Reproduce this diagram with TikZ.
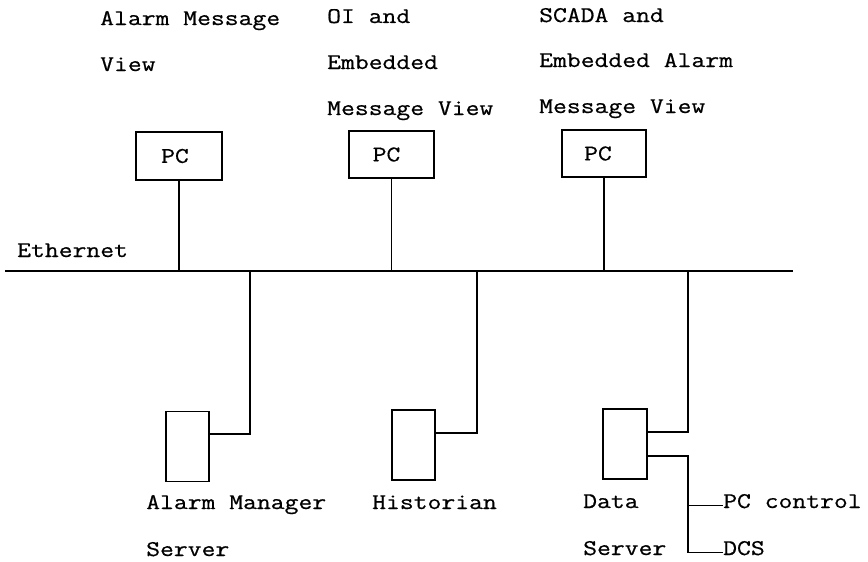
\documentclass[tikz,border=0pt]{standalone}
\usepackage{fontspec}
\setmonofont[FakeStretch=1.2,FakeBold=0.6]{Latin Modern Mono}
\begin{document}
\begin{tikzpicture}[x=1pt,y=-1pt,
  lbl/.style={anchor=base west,inner sep=0pt,font=\fontsize{22.4}{28}\selectfont\ttfamily},
  pcbox/.style={draw,line width=1.1pt,inner sep=0pt,font=\fontsize{22.4}{28}\selectfont\ttfamily},
  srv/.style={draw,line width=1.1pt,inner sep=0pt,minimum width=43pt,minimum height=70pt},
  wire/.style={line width=1.2pt}]
\useasboundingbox (0,0) rectangle (868,562);
% top labels
\node[lbl] (t1a) at (100,25) {Alarm Message};
\node[lbl] (t1b) at (100,71) {View};
\node[lbl] (t2a) at (327,23) {OI and};
\node[lbl] (t2b) at (327,69) {Embedded};
\node[lbl] (t2c) at (327,115) {Message View};
\node[lbl] (t3a) at (539,22) {SCADA and};
\node[lbl] (t3b) at (539,67) {Embedded Alarm};
\node[lbl] (t3c) at (539,113) {Message View};
% PC boxes
\node[pcbox,minimum width=86pt,minimum height=48pt] (pc1) at (179,156) {PC\hspace*{8pt}};
\node[pcbox,minimum width=85pt,minimum height=47pt] (pc2) at (391.5,154.5) {PC\hspace*{10pt}};
\node[pcbox,minimum width=84pt,minimum height=47pt] (pc3) at (604,153.5) {PC\hspace*{12pt}};
% Ethernet bus
\node[lbl] (eth) at (17,257) {Ethernet};
\coordinate (busw) at (5,271);
\coordinate (buse) at (793,271);
\draw[wire] (busw) -- (buse);
\draw[wire] (pc1.south) -- (pc1.south |- busw);
\draw[wire] (pc2.south) -- (pc2.south |- busw);
\draw[wire] (pc3.south) -- (pc3.south |- busw);
% servers
\node[srv] (ams) at (187.5,446.5) {};
\node[srv] (hist) at (413.5,445) {};
\node[srv,minimum width=44pt] (ds) at (625,444) {};
\coordinate (tap1) at (250,271);
\coordinate (tap2) at (477,271);
\coordinate (tap3) at (688,271);
\draw[wire] (tap1) |- ([yshift=12.5pt]ams.east);
\draw[wire] (tap2) |- ([yshift=12pt]hist.east);
\draw[wire] (tap3) |- ([yshift=12pt]ds.east);
% bottom labels
\node[lbl] (l1a) at (146,509) {Alarm Manager};
\node[lbl] (l1b) at (146,556) {Server};
\node[lbl] (l2) at (372,509) {Historian};
\node[lbl] (l3a) at (583,508) {Data};
\node[lbl] (l3b) at (583,555) {Server};
\node[lbl] (pcc) at (723,508) {PC control};
\node[lbl] (dcs) at (723,555) {DCS};
\coordinate (jt) at (688,456);
\draw[wire] ([yshift=-12pt]ds.east) -- (jt) |- (dcs.mid west);
\draw[wire] (jt |- pcc.mid west) -- (pcc.mid west);
\end{tikzpicture}
\end{document}
